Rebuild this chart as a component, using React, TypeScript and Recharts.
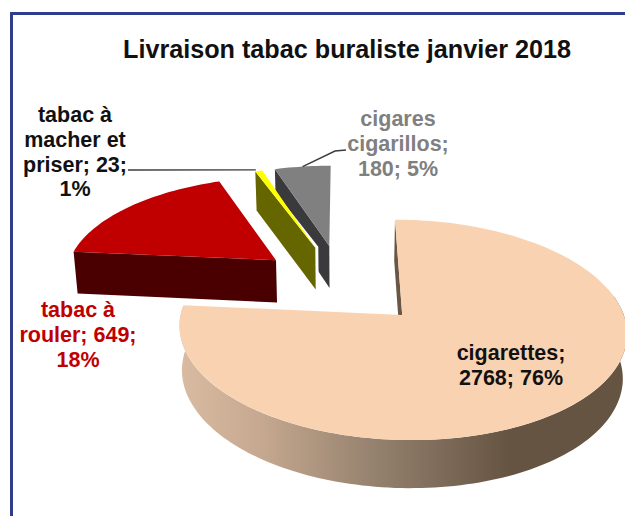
import { PieChart, Pie } from 'recharts'

// drawn back to front, so the list runs anticlockwise from 12 o'clock
const categories = ['cigares cigarillos', 'tabac à macher et priser', 'tabac à rouler', 'cigarettes']
const deliveries = [180, 23, 649, 2768]
const labelBreaks = [
  ['cigares', 'cigarillos;'],
  ['tabac à', 'macher et', 'priser;'],
  ['tabac à', 'rouler;'],
  ['cigarettes;'],
]
const topColors = ['#808080', '#ffff00', '#c00000', '#f9d2b2']
const wallColors = ['#3a3a3c', '#666600', '#4a0000', '#6a5644']
const labelColors = ['#808080', '#111111', '#c00000', '#111111']
const labelCentres = [
  { dx: 56, dy: -158 },
  { dx: -267, dy: -162 },
  { dx: -264, dy: 33 },
  { dx: 169, dy: 76 },
]

const TILT = 100
const PERSPECTIVE = 0.13
const EXPLODE = 0.403
const DEPTH = 43

const pieData = categories.map((name, i) => ({
  name,
  value: deliveries[i],
  top: topColors[i],
  wall: wallColors[i],
  labelColor: labelColors[i],
  lines: labelBreaks[i],
  centre: labelCentres[i],
}))

function toRad(deg: number) {
  return (deg * Math.PI) / 180
}

// clockwise degrees from 12 o'clock on the unit disc, moved out along the bisector
function project(cx: number, cy: number, radius: number, theta: number, mid: number, r: number, lowered: boolean) {
  const u = r * Math.sin(toRad(theta)) + EXPLODE * Math.sin(toRad(mid))
  const v = -r * Math.cos(toRad(theta)) - EXPLODE * Math.cos(toRad(mid))
  const s = 1 / (1 - PERSPECTIVE * v)
  const x = cx + radius * u * s
  const y = cy + TILT * v * s
  if (!lowered) return { x, y }
  return { x: cx + (x - cx) * 0.985, y: y + DEPTH * Math.pow(s, 0.6) }
}

function thetaRange(startAngle: number, endAngle: number) {
  let from = 90 - Math.max(startAngle, endAngle)
  let to = 90 - Math.min(startAngle, endAngle)
  if (from < 0) {
    from += 360
    to += 360
  }
  return { from, to, mid: (from + to) / 2 }
}

function toPath(points: { x: number; y: number }[]) {
  return points.map((p, i) => `${i ? 'L' : 'M'}${p.x.toFixed(1)} ${p.y.toFixed(1)}`).join(' ') + ' Z'
}

function arcSteps(from: number, to: number) {
  const out: number[] = []
  for (let t = from; t < to; t += 1.5) out.push(t)
  out.push(to)
  return out
}

function SliceShape(props: any) {
  const { cx, cy, outerRadius, startAngle, endAngle, payload, index } = props
  const { from, to, mid } = thetaRange(startAngle, endAngle)
  const top = (t: number, r = 1) => project(cx, cy, outerRadius, t, mid, r, false)
  const low = (t: number, r = 1) => project(cx, cy, outerRadius, t, mid, r, true)
  const apex = top(from, 0)
  const apexLow = low(from, 0)

  // only the big slice shows its rim, the others have theirs at the back
  const hasArcWall = from < 180
  const steps = hasArcWall ? arcSteps(Math.max(from, 80), to) : []
  const gradientId = `wall-${index}`
  // the thin yellow slice keeps a white gap against the grey one behind it
  const isThin = to - from < 5

  return (
    <g>
      {hasArcWall && (
        <defs>
          <linearGradient id={gradientId} gradientUnits="userSpaceOnUse" x1={180} x2={510} y1={0} y2={0}>
            <stop offset="0%" stopColor="#d8bba1" />
            <stop offset="25%" stopColor="#c5a88f" />
            <stop offset="60%" stopColor="#93806d" />
            <stop offset="100%" stopColor="#665443" />
          </linearGradient>
        </defs>
      )}
      {Math.sin(toRad(from)) <= 1e-6 && (
        <path
          d={toPath([top(from), apex, apexLow, low(from)])}
          fill={payload.wall}
          stroke={isThin ? '#ffffff' : 'none'}
          strokeWidth={isThin ? 6 : 0}
          paintOrder="stroke"
        />
      )}
      {hasArcWall && (
        <path
          d={toPath([...steps.map(t => top(t)), ...steps.slice().reverse().map(t => low(t))])}
          fill={`url(#${gradientId})`}
        />
      )}
      <path d={toPath([apex, ...arcSteps(from, to).map(t => top(t))])} fill={payload.top} />
    </g>
  )
}

function SliceLabel(props: any) {
  const { cx, cy, outerRadius, startAngle, endAngle, payload, percent, value } = props
  const { mid } = thetaRange(startAngle, endAngle)
  const edge = project(cx, cy, outerRadius, mid, mid, 1, false)
  const x = cx + payload.centre.dx
  const y = cy + payload.centre.dy
  const pct = `${Math.round(percent * 100)}%`
  let lines: string[]
  if (payload.name === 'tabac à macher et priser') lines = ['tabac à', 'macher et', `priser; ${value};`, pct]
  else if (payload.name === 'tabac à rouler') lines = ['tabac à', `rouler; ${value};`, pct]
  else lines = [...payload.lines, `${value}; ${pct}`]

  let leader: string | null = null
  if (payload.name === 'tabac à macher et priser') leader = `M128 170 L${edge.x - 3} ${edge.y - 1}`
  if (payload.name === 'cigares cigarillos') leader = `M${edge.x} ${edge.y} L335 151 L346 150`

  return (
    <g>
      {leader && <path d={leader} fill="none" stroke="#3c3c3c" strokeWidth={1.4} />}
      <text
        x={x}
        y={y}
        textAnchor="middle"
        fontFamily="Liberation Sans, Arial, sans-serif"
        fontWeight="bold"
        fontSize={21.5}
        fill={payload.labelColor}
      >
        {lines.map((line, i) => (
          <tspan key={i} x={x} dy={i ? 24.8 : 0}>
            {line}
          </tspan>
        ))}
      </text>
    </g>
  )
}

export default function App() {
  return (
    <div style={{ position: 'absolute', left: 0, top: 0, width: 625, height: 516, overflow: 'hidden', background: '#fff' }}>
      <div
        style={{
          position: 'absolute',
          left: 10,
          top: 12,
          width: 700,
          height: 600,
          border: '3px solid #303c8c',
        }}
      />
      <div style={{ position: 'absolute', left: 0, top: 0 }}>
        <PieChart width={625} height={516} margin={{ top: 0, right: 0, bottom: 0, left: 0 }}>
          <text
            x={347}
            y={58}
            textAnchor="middle"
            fontFamily="Liberation Sans, Arial, sans-serif"
            fontWeight="bold"
            fontSize={25.2}
            fill="#111111"
          >
            Livraison tabac buraliste janvier 2018
          </text>
          <Pie
            data={pieData}
            dataKey="value"
            nameKey="name"
            cx={342}
            cy={284}
            innerRadius={0}
            outerRadius={213}
            startAngle={90}
            endAngle={450}
            stroke="none"
            shape={SliceShape}
            label={SliceLabel}
            labelLine={false}
            isAnimationActive={false}
          />
        </PieChart>
      </div>
    </div>
  )
}
